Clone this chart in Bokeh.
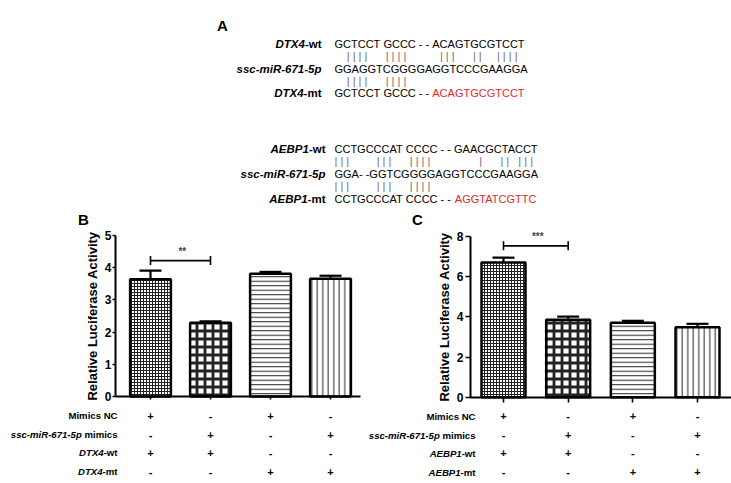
from bokeh.plotting import figure
from bokeh.layouts import column, row
from bokeh.models import Range1d, FixedTicker, Whisker, TeeHead, ColumnDataSource
from bokeh.core.properties import value
from bokeh.embed import file_html
from bokeh.resources import INLINE

# ---------------- data ----------------
groups = [0, 1, 2, 3]
dtx4_values = [3.64, 2.29, 3.81, 3.66]
dtx4_errors = [0.27, 0.04, 0.06, 0.09]
aebp1_values = [6.70, 3.85, 3.70, 3.48]
aebp1_errors = [0.24, 0.16, 0.10, 0.17]
dtx4_ticks = [0, 1, 2, 3, 4, 5]
aebp1_ticks = [0, 2, 4, 6, 8]
sig_pair = [0, 1]
dtx4_sig_level = 4.22
aebp1_sig_level = 7.53
dtx4_sig = "**"
aebp1_sig = "***"

mimics_nc = ["+", "-", "+", "-"]
mir_mimics = ["-", "+", "-", "+"]
wt_reporter = ["+", "+", "-", "-"]
mt_reporter = ["-", "-", "+", "+"]

mir_name = "ssc-miR-671-5p"
y_label = "Relative Luciferase Activity"

dtx4_wt_seq = "GCTCCT GCCC - - ACAGTGCGTCCT"
dtx4_wt_pairs = "    | | | |      | | | |           | | |      | |     | | | |"
dtx4_mir_seq = "GGAGGTCGGGGAGGTCCCGAAGGA"
dtx4_mt_pairs = "    | | | |      | | | |"
dtx4_mt_kept = "GCTCCT GCCC - - "
dtx4_mt_mut = "ACAGTGCGTCCT"

aebp1_wt_seq = "CCTGCCCAT CCCC - - GAACGCTACCT"
aebp1_wt_pairs = "| | |         | | |      | | | |                |      | |   | | |"
aebp1_mir_seq = "GGA- -GGTCGGGGAGGTCCCGAAGGA"
aebp1_mt_pairs = "| | |         | | |      | | | |"
aebp1_mt_kept = "CCTGCCCAT CCCC - - "
aebp1_mt_mut = "AGGTATCGTTC"

# ---------------- helpers ----------------
FONT = "Liberation Sans"
NBSP = "\u00a0"
REG_W = {"G": 778, "C": 722, "T": 611, "A": 667, " ": 278, "-": 333}
BOLD_W = {" ": 278, "-": 333, "w": 778, "t": 333, "m": 889, "i": 278, "c": 556, "s": 556}


def width(s, px, table):
    return sum(table.get(ch, 556) for ch in s) * px / 1000.0


def keep_spaces(s):
    return s.replace(" ", NBSP)


def txt(p, x, y, s, size, style="normal", color="black", align="left", x_off=0, y_off=0):
    p.text(x=[x], y=[y], text=[keep_spaces(s)], text_font=value(FONT),
           text_font_size=f"{size}px", text_font_style=style, text_color=color,
           text_align=align, text_baseline="middle", x_offset=x_off, y_offset=y_off)


def two_part(p, x, y, italic_part, plain_part, size):
    # italic gene name + bold suffix, right aligned at x
    txt(p, x, y, plain_part, size, "bold", align="right")
    txt(p, x, y, italic_part, size, "bold italic", align="right",
        x_off=-width(plain_part, size, BOLD_W))


# ---------------- panel A ----------------
PAGE_W = 731
A_H = 206
pa = figure(width=PAGE_W, height=A_H, output_backend="svg", toolbar_location=None,
            x_range=Range1d(0, PAGE_W), y_range=Range1d(A_H, 0), min_border=0)
pa.axis.visible = False
pa.grid.visible = False
pa.outline_line_color = None

txt(pa, 222, 25, "A", 15, "bold", align="center")

SEQ = 11
LAB = 11.5
PIPE = "#6e6e6e"
RED = "#e8262c"


def alignment_block(p, lab_x, seq_x, ys, gene, wt_seq, wt_pairs, mir_seq, mt_pairs, mt_kept, mt_mut):
    y_wt, y_p1, y_mir, y_p2, y_mt = ys
    two_part(p, lab_x, y_wt, gene, "-wt", LAB)
    txt(p, lab_x, y_mir, mir_name, LAB, "bold italic", align="right")
    two_part(p, lab_x, y_mt, gene, "-mt", LAB)
    txt(p, seq_x, y_wt, wt_seq, SEQ)
    txt(p, seq_x, y_p1, wt_pairs, SEQ, color=PIPE)
    txt(p, seq_x, y_mir, mir_seq, SEQ)
    txt(p, seq_x, y_p2, mt_pairs, SEQ, color=PIPE)
    txt(p, seq_x, y_mt, mt_kept, SEQ)
    txt(p, seq_x, y_mt, mt_mut, SEQ, color=RED, x_off=width(mt_kept, SEQ, REG_W))


alignment_block(pa, 321, 334, [43.5, 55, 68.5, 80, 92], "DTX4",
                dtx4_wt_seq, dtx4_wt_pairs, dtx4_mir_seq, dtx4_mt_pairs, dtx4_mt_kept, dtx4_mt_mut)
alignment_block(pa, 325, 334, [148.5, 160, 173.5, 185, 198.5], "AEBP1",
                aebp1_wt_seq, aebp1_wt_pairs, aebp1_mir_seq, aebp1_mt_pairs, aebp1_mt_kept, aebp1_mt_mut)

# ---------------- panels B, C ----------------
P_H = 483 - A_H
HATCH = dict(pattern=["+", "+", "-", "|"], scale=[3, 8, 4.5, 5.5], weight=[1, 2.8, 1, 1])


def bar_panel(fig_w, letter, gene, values, errors, ticks, sig, sig_level,
              x0_px, dx_px, y0_px, dy_px, axis_px, axis_end_px, label_px, letter_px,
              tick_out, label_standoff):
    def dx(px):
        return (px - x0_px) / dx_px

    def dy(px_from_top):
        return (y0_px - px_from_top) / dy_px

    p = figure(width=fig_w, height=P_H, output_backend="svg", toolbar_location=None,
               x_range=Range1d(dx(0), dx(fig_w)), y_range=Range1d(dy(P_H), dy(0)),
               min_border=0)
    p.grid.visible = False
    p.outline_line_color = None

    src = ColumnDataSource(dict(x=groups, top=values,
                                upper=[v + e for v, e in zip(values, errors)],
                                pat=HATCH["pattern"], sc=HATCH["scale"], wt=HATCH["weight"]))
    p.vbar(x="x", top="top", bottom=0, width=0.68, source=src, fill_color="white",
           line_color="black", line_width=2.5, hatch_pattern="pat", hatch_scale="sc",
           hatch_weight="wt", hatch_color="#222222")
    p.add_layout(Whisker(base="x", lower="top", upper="upper", source=src,
                         line_width=2.2, line_color="black",
                         upper_head=TeeHead(size=22, line_width=2.2, line_color="black"),
                         lower_head=None))

    # significance bracket
    bsrc = ColumnDataSource(dict(base=[sig_level], lower=[sig_pair[0]], upper=[sig_pair[1]]))
    p.add_layout(Whisker(base="base", lower="lower", upper="upper", source=bsrc,
                         dimension="width", line_width=1.6, line_color="black",
                         upper_head=TeeHead(size=9, line_width=1.6),
                         lower_head=TeeHead(size=9, line_width=1.6)))
    txt(p, (sig_pair[0] + sig_pair[1]) / 2 + 0.03, sig_level, sig, 10, "bold",
        color="#444444", align="center", y_off=-9)

    # axes
    p.xaxis.fixed_location = 0
    p.yaxis.fixed_location = dx(axis_px)
    p.xaxis.bounds = (dx(axis_px), dx(axis_end_px))
    p.yaxis.bounds = (ticks[0], ticks[-1])
    p.xaxis.ticker = FixedTicker(ticks=groups)
    p.yaxis.ticker = FixedTicker(ticks=ticks)
    p.xaxis.major_label_text_color = None
    p.axis.axis_line_width = 2
    p.axis.axis_line_color = "black"
    p.axis.major_tick_line_width = 1.6
    p.axis.major_tick_out = tick_out
    p.axis.major_tick_in = 0
    p.axis.minor_tick_line_color = None
    p.yaxis.major_label_text_font = FONT
    p.yaxis.major_label_text_font_size = "12px"
    p.yaxis.major_label_text_font_style = "bold"
    p.yaxis.major_label_text_color = "black"
    p.yaxis.major_label_standoff = label_standoff
    p.yaxis.axis_label = y_label
    p.yaxis.axis_label_text_font = FONT
    p.yaxis.axis_label_text_font_size = "13px"
    p.yaxis.axis_label_text_font_style = "bold"
    p.yaxis.axis_label_text_color = "black"
    p.yaxis.axis_label_standoff = 2

    # panel letter
    txt(p, dx(letter_px[0]), dy(letter_px[1]), letter, 15, "bold", align="center")

    # treatment table
    row_px = [19, 38, 56, 75]
    lab_x = dx(label_px)
    rows = [mimics_nc, mir_mimics, wt_reporter, mt_reporter]
    ys = [dy(y0_px + r) for r in row_px]
    TS = 9.6
    txt(p, lab_x, ys[0], "Mimics NC", TS, "bold", align="right")
    two_part(p, lab_x, ys[1], mir_name, " mimics", TS)
    two_part(p, lab_x, ys[2], gene, "-wt", TS)
    two_part(p, lab_x, ys[3], gene, "-mt", TS)
    for yv, signs in zip(ys, rows):
        p.text(x=groups, y=[yv] * len(groups), text=signs, text_font=value(FONT),
               text_font_size="11px", text_font_style="bold", text_align="center",
               text_baseline="middle", text_color="black")
    return p


pb = bar_panel(365, "B", "DTX4", dtx4_values, dtx4_errors, dtx4_ticks, dtx4_sig, dtx4_sig_level,
               x0_px=150, dx_px=60, y0_px=396 - A_H, dy_px=32.2, axis_px=115, axis_end_px=360,
               label_px=117, letter_px=(83, 219 - A_H), tick_out=3, label_standoff=1)
pc = bar_panel(PAGE_W - 365, "C", "AEBP1", aebp1_values, aebp1_errors, aebp1_ticks, aebp1_sig,
               aebp1_sig_level, x0_px=138, dx_px=64.67, y0_px=396.7 - A_H, dy_px=20.1,
               axis_px=105, axis_end_px=366, label_px=110, letter_px=(52, 219 - A_H),
               tick_out=5, label_standoff=2)

layout = column(pa, row(pb, pc))
open("out.html", "w").write(file_html(layout, INLINE))
